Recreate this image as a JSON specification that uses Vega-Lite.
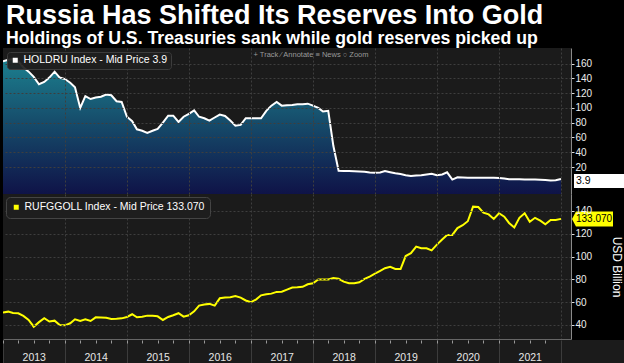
{
  "$schema": "https://vega.github.io/schema/vega-lite/v6.json",
  "background": "#000000",
  "padding": {"left": 0, "top": 2, "right": 0, "bottom": 0},
  "title": {
    "text": "Russia Has Shifted Its Reserves Into Gold",
    "subtitle": "Holdings of U.S. Treasuries sank while gold reserves picked up",
    "anchor": "start", "frame": "group", "dx": 3,
    "font": "Liberation Sans", "fontSize": 27, "fontWeight": "bold", "color": "#ffffff",
    "subtitleFont": "Liberation Sans", "subtitleFontSize": 17.7, "subtitleFontWeight": "bold", "subtitleColor": "#ffffff",
    "subtitlePadding": 0, "offset": -1
  },
  "config": {
    "font": "Liberation Sans",
    "view": {"fill": "#1b1b1b", "stroke": null}
  },
  "spacing": 0,
  "resolve": {"scale": {"x": "independent", "y": "independent", "color": "independent"}, "legend": {"color": "independent"}},
  "datasets": {
    "holdru": [
      {"date":"2013-01-01","v":163},{"date":"2013-02-01","v":165},{"date":"2013-03-01","v":166},{"date":"2013-04-01","v":163},{"date":"2013-05-01","v":155},{"date":"2013-06-01","v":149},{"date":"2013-07-01","v":142},{"date":"2013-08-01","v":132},{"date":"2013-09-01","v":135},{"date":"2013-10-01","v":141},{"date":"2013-11-01","v":149},{"date":"2013-12-01","v":141},
      {"date":"2014-01-01","v":139},{"date":"2014-02-01","v":134},{"date":"2014-03-01","v":128},{"date":"2014-04-01","v":100},{"date":"2014-05-01","v":116},{"date":"2014-06-01","v":112},{"date":"2014-07-01","v":114},{"date":"2014-08-01","v":115},{"date":"2014-09-01","v":118},{"date":"2014-10-01","v":117},{"date":"2014-11-01","v":109},{"date":"2014-12-01","v":108},
      {"date":"2015-01-01","v":88},{"date":"2015-02-01","v":82},{"date":"2015-03-01","v":71},{"date":"2015-04-01","v":69},{"date":"2015-05-01","v":66},{"date":"2015-06-01","v":69},{"date":"2015-07-01","v":71.5},{"date":"2015-08-01","v":80},{"date":"2015-09-01","v":89.5},{"date":"2015-10-01","v":89.5},{"date":"2015-11-01","v":81},{"date":"2015-12-01","v":88},
      {"date":"2016-01-01","v":92},{"date":"2016-02-01","v":96.7},{"date":"2016-03-01","v":88},{"date":"2016-04-01","v":86},{"date":"2016-05-01","v":82.7},{"date":"2016-06-01","v":87},{"date":"2016-07-01","v":91},{"date":"2016-08-01","v":89},{"date":"2016-09-01","v":83},{"date":"2016-10-01","v":76},{"date":"2016-11-01","v":77},{"date":"2016-12-01","v":86},
      {"date":"2017-01-01","v":86},{"date":"2017-02-01","v":86},{"date":"2017-03-01","v":86},{"date":"2017-04-01","v":96},{"date":"2017-05-01","v":103},{"date":"2017-06-01","v":108},{"date":"2017-07-01","v":103},{"date":"2017-08-01","v":103.5},{"date":"2017-09-01","v":104},{"date":"2017-10-01","v":105},{"date":"2017-11-01","v":105},{"date":"2017-12-01","v":105.7},
      {"date":"2018-01-01","v":103},{"date":"2018-02-01","v":100},{"date":"2018-03-01","v":95},{"date":"2018-04-01","v":96},{"date":"2018-05-01","v":48.7},{"date":"2018-06-01","v":14.9},{"date":"2018-07-01","v":14.6},{"date":"2018-08-01","v":14.6},{"date":"2018-09-01","v":14.4},{"date":"2018-10-01","v":14},{"date":"2018-11-01","v":13.7},{"date":"2018-12-01","v":12.5},
      {"date":"2019-01-01","v":12.3},{"date":"2019-02-01","v":12.5},{"date":"2019-03-01","v":14.6},{"date":"2019-04-01","v":13},{"date":"2019-05-01","v":11.5},{"date":"2019-06-01","v":10.5},{"date":"2019-07-01","v":9},{"date":"2019-08-01","v":7.8},{"date":"2019-09-01","v":8.5},{"date":"2019-10-01","v":9},{"date":"2019-11-01","v":10},{"date":"2019-12-01","v":11},
      {"date":"2020-01-01","v":9},{"date":"2020-02-01","v":10},{"date":"2020-03-01","v":12.8},{"date":"2020-04-01","v":3},{"date":"2020-05-01","v":6},{"date":"2020-06-01","v":5.8},{"date":"2020-07-01","v":5.6},{"date":"2020-08-01","v":5.6},{"date":"2020-09-01","v":5.6},{"date":"2020-10-01","v":5.5},{"date":"2020-11-01","v":5.6},{"date":"2020-12-01","v":5.6},
      {"date":"2021-01-01","v":5},{"date":"2021-02-01","v":4.5},{"date":"2021-03-01","v":3.5},{"date":"2021-04-01","v":3.5},{"date":"2021-05-01","v":3.3},{"date":"2021-06-01","v":3.2},{"date":"2021-07-01","v":3},{"date":"2021-08-01","v":3},{"date":"2021-09-01","v":2.8},{"date":"2021-10-01","v":2.5},{"date":"2021-11-01","v":1.8},{"date":"2021-12-01","v":2},
      {"date":"2022-01-01","v":3.9}
    ],
    "holdru_last": [{"date":"2022-01-01","v":3.9}],
    "gold": [
      {"date":"2013-01-01","v":51},{"date":"2013-02-01","v":51.7},{"date":"2013-03-01","v":50.5},{"date":"2013-04-01","v":50.3},{"date":"2013-05-01","v":48},{"date":"2013-06-01","v":44.5},{"date":"2013-07-01","v":38.5},{"date":"2013-08-01","v":42.5},{"date":"2013-09-01","v":45.9},{"date":"2013-10-01","v":43},{"date":"2013-11-01","v":43.8},{"date":"2013-12-01","v":40},
      {"date":"2014-01-01","v":39.7},{"date":"2014-02-01","v":41.5},{"date":"2014-03-01","v":45},{"date":"2014-04-01","v":43.5},{"date":"2014-05-01","v":45},{"date":"2014-06-01","v":43.5},{"date":"2014-07-01","v":46.7},{"date":"2014-08-01","v":46.6},{"date":"2014-09-01","v":46.4},{"date":"2014-10-01","v":45.3},{"date":"2014-11-01","v":45.4},{"date":"2014-12-01","v":45.8},
      {"date":"2015-01-01","v":47},{"date":"2015-02-01","v":49.4},{"date":"2015-03-01","v":46.7},{"date":"2015-04-01","v":47.2},{"date":"2015-05-01","v":48.2},{"date":"2015-06-01","v":48},{"date":"2015-07-01","v":47.6},{"date":"2015-08-01","v":44.4},{"date":"2015-09-01","v":47},{"date":"2015-10-01","v":48.5},{"date":"2015-11-01","v":50.3},{"date":"2015-12-01","v":47.3},
      {"date":"2016-01-01","v":48.5},{"date":"2016-02-01","v":52},{"date":"2016-03-01","v":57},{"date":"2016-04-01","v":58},{"date":"2016-05-01","v":58.5},{"date":"2016-06-01","v":57},{"date":"2016-07-01","v":63.4},{"date":"2016-08-01","v":64},{"date":"2016-09-01","v":64.3},{"date":"2016-10-01","v":65.4},{"date":"2016-11-01","v":64},{"date":"2016-12-01","v":61.5},
      {"date":"2017-01-01","v":60},{"date":"2017-02-01","v":62.5},{"date":"2017-03-01","v":66},{"date":"2017-04-01","v":67},{"date":"2017-05-01","v":67.5},{"date":"2017-06-01","v":69},{"date":"2017-07-01","v":69.2},{"date":"2017-08-01","v":71},{"date":"2017-09-01","v":72.8},{"date":"2017-10-01","v":73},{"date":"2017-11-01","v":73.5},{"date":"2017-12-01","v":75.7},
      {"date":"2018-01-01","v":76.6},{"date":"2018-02-01","v":80},{"date":"2018-03-01","v":80},{"date":"2018-04-01","v":80},{"date":"2018-05-01","v":81.2},{"date":"2018-06-01","v":80.5},{"date":"2018-07-01","v":78},{"date":"2018-08-01","v":76.6},{"date":"2018-09-01","v":76.6},{"date":"2018-10-01","v":77.5},{"date":"2018-11-01","v":80.4},{"date":"2018-12-01","v":82.5},
      {"date":"2019-01-01","v":85},{"date":"2019-02-01","v":87.5},{"date":"2019-03-01","v":89.8},{"date":"2019-04-01","v":91},{"date":"2019-05-01","v":89.1},{"date":"2019-06-01","v":89.1},{"date":"2019-07-01","v":100.5},{"date":"2019-08-01","v":103},{"date":"2019-09-01","v":108.7},{"date":"2019-10-01","v":107.3},{"date":"2019-11-01","v":107.3},{"date":"2019-12-01","v":105.5},
      {"date":"2020-01-01","v":110.5},{"date":"2020-02-01","v":115},{"date":"2020-03-01","v":118.9},{"date":"2020-04-01","v":119},{"date":"2020-05-01","v":125},{"date":"2020-06-01","v":127.5},{"date":"2020-07-01","v":131},{"date":"2020-08-01","v":143.8},{"date":"2020-09-01","v":143.5},{"date":"2020-10-01","v":138.5},{"date":"2020-11-01","v":137},{"date":"2020-12-01","v":133},
      {"date":"2021-01-01","v":138},{"date":"2021-02-01","v":135},{"date":"2021-03-01","v":129.5},{"date":"2021-04-01","v":125.5},{"date":"2021-05-01","v":134},{"date":"2021-06-01","v":138},{"date":"2021-07-01","v":130.5},{"date":"2021-08-01","v":134},{"date":"2021-09-01","v":131.5},{"date":"2021-10-01","v":128.3},{"date":"2021-11-01","v":132.1},{"date":"2021-12-01","v":132.1},
      {"date":"2022-01-01","v":133.07}
    ],
    "gold_last": [{"date":"2022-01-01","v":133.07}]
  },
  "vconcat": [
    {
      "width": 568, "height": 146,
      "title": {"text": "+ Track    ⁄ Annotate    ≡ News    ○ Zoom", "orient": "top", "anchor": "middle", "dx": 24, "offset": -10, "baseline": "top", "fontSize": 7.5, "fontWeight": "normal", "color": "#9a9a9a", "font": "Liberation Sans"},
      "encoding": {
        "x": {"field": "date", "type": "temporal",
          "scale": {"type": "utc", "domain": [{"year":2013,"month":1,"date":1,"utc":true},{"year":2022,"month":3,"date":1,"utc":true}]},
          "axis": {"orient": "bottom", "title": null, "labels": false, "ticks": false, "domain": true, "domainColor": "#4a4a4a",
            "grid": true, "gridColor": "#3e3e3e", "gridDash": [2,2], "zindex": 1,
            "values": [{"year":2014,"month":1,"date":1,"utc":true},{"year":2015,"month":1,"date":1,"utc":true},{"year":2016,"month":1,"date":1,"utc":true},{"year":2017,"month":1,"date":1,"utc":true},{"year":2018,"month":1,"date":1,"utc":true},{"year":2019,"month":1,"date":1,"utc":true},{"year":2020,"month":1,"date":1,"utc":true},{"year":2021,"month":1,"date":1,"utc":true},{"year":2022,"month":1,"date":1,"utc":true}]}},
        "y": {"field": "v", "type": "quantitative",
          "scale": {"domain": [-16.5, 181], "nice": false, "zero": false},
          "axis": {"orient": "right", "title": null, "values": [20,40,60,80,100,120,140,160],
            "grid": true, "gridColor": "#3e3e3e", "gridDash": [2,2], "domainColor": "#8a8a8a",
            "tickColor": "#dddddd", "tickSize": 3, "labelPadding": 1, "labelColor": "#eeeeee", "labelFontSize": 10, "zindex": 1}}
      },
      "layer": [
        {"data": {"name": "holdru"},
         "mark": {"type": "area", "clip": true,
           "color": {"gradient": "linear", "x1": 0, "y1": 0, "x2": 0, "y2": 1,
             "stops": [{"offset": 0, "color": "#1c808f"}, {"offset": 0.45, "color": "#164e6c"}, {"offset": 1, "color": "#0f1348"}]}},
         "encoding": {"y2": {"datum": -16.5}}},
        {"data": {"name": "holdru"},
         "mark": {"type": "line", "clip": true, "color": "#ffffff", "strokeWidth": 2}},
        {"data": {"name": "holdru_last"},
         "mark": {"type": "point", "shape": "M13,-5L66,-5L66,9L13,9Z", "size": 4, "filled": true, "opacity": 1, "strokeWidth": 0},
         "encoding": {"color": {"datum": "HOLDRU Index - Mid Price 3.9", "scale": {"range": ["#ffffff"]},
           "legend": {"title": null, "orient": "top-left", "offset": 4, "padding": 3, "fillColor": "rgba(30,30,30,0.92)", "strokeColor": "#3c3c3c", "cornerRadius": 3,
             "symbolType": "square", "symbolSize": 25, "symbolStrokeWidth": 0, "labelColor": "#ffffff", "labelFontSize": 10.5, "labelOffset": 3, "labelLimit": 300, "zindex": 2}}}},
        {"data": {"name": "holdru_last"},
         "mark": {"type": "text", "align": "left", "baseline": "middle", "dx": 15, "dy": 2, "fontSize": 10.5, "color": "#000000"},
         "encoding": {"text": {"field": "v", "type": "quantitative", "format": ".1f"}}}
      ]
    },
    {
      "width": 568, "height": 145,
      "encoding": {
        "x": {"field": "date", "type": "temporal",
          "scale": {"type": "utc", "domain": [{"year":2013,"month":1,"date":1,"utc":true},{"year":2022,"month":3,"date":1,"utc":true}]},
          "axis": {"orient": "bottom", "title": null, "labels": false, "ticks": false, "domain": true, "domainColor": "#666666",
            "grid": true, "gridColor": "#3e3e3e", "gridDash": [2,2], "zindex": 1,
            "values": [{"year":2014,"month":1,"date":1,"utc":true},{"year":2015,"month":1,"date":1,"utc":true},{"year":2016,"month":1,"date":1,"utc":true},{"year":2017,"month":1,"date":1,"utc":true},{"year":2018,"month":1,"date":1,"utc":true},{"year":2019,"month":1,"date":1,"utc":true},{"year":2020,"month":1,"date":1,"utc":true},{"year":2021,"month":1,"date":1,"utc":true},{"year":2022,"month":1,"date":1,"utc":true}]}},
        "y": {"field": "v", "type": "quantitative",
          "scale": {"domain": [27.7, 154.9], "nice": false, "zero": false},
          "axis": {"orient": "right", "title": "USD Billion", "titleColor": "#ffffff", "titleFontSize": 12, "titleFontWeight": "normal", "titlePadding": 18,
            "values": [40,60,80,100,120,140],
            "grid": true, "gridColor": "#3e3e3e", "gridDash": [2,2], "domainColor": "#8a8a8a",
            "tickColor": "#dddddd", "tickSize": 3, "labelPadding": 1, "labelColor": "#eeeeee", "labelFontSize": 10, "zindex": 1}}
      },
      "layer": [
        {"data": {"name": "gold"},
         "mark": {"type": "line", "clip": true, "color": "#ffff00", "strokeWidth": 2}},
        {"data": {"name": "gold_last"},
         "mark": {"type": "point", "shape": "M11,0L15,-7.5L52,-7.5L52,7.5L15,7.5Z", "size": 4, "filled": true, "opacity": 1, "strokeWidth": 0},
         "encoding": {"color": {"datum": "RUFGGOLL Index - Mid Price 133.070", "scale": {"range": ["#ffff00"]},
           "legend": {"title": null, "orient": "top-left", "offset": 3, "padding": 5, "fillColor": "#1e1e1e", "strokeColor": "#444444", "cornerRadius": 4,
             "symbolType": "square", "symbolSize": 25, "symbolStrokeWidth": 0, "labelColor": "#ffffff", "labelFontSize": 10.5, "labelOffset": 3, "labelLimit": 300, "zindex": 2}}}},
        {"data": {"name": "gold_last"},
         "mark": {"type": "text", "align": "left", "baseline": "middle", "dx": 15, "fontSize": 10, "color": "#000000"},
         "encoding": {"text": {"field": "v", "type": "quantitative", "format": ".3f"}}}
      ]
    },
    {
      "width": 624, "height": 24,
      "data": {"name": "gold"},
      "mark": {"type": "point", "opacity": 0},
      "encoding": {
        "x": {"field": "date", "type": "temporal",
          "scale": {"type": "utc", "domain": [{"year":2013,"month":1,"date":1,"utc":true},{"year":2023,"month":1,"date":25,"utc":true}]},
          "axis": {"orient": "bottom", "offset": -24, "title": null, "domain": false,
            "tickCount": {"interval": "month", "step": 3},
            "ticks": true, "tickSize": 3, "tickColor": "#9a9a9a",
            "tickOpacity": {"condition": {"test": "utcyear(datum.value) < 2022", "value": 1}, "value": 0},
            "grid": true, "gridColor": "#3c3c3c",
            "gridOpacity": {"condition": {"test": "utcmonth(datum.value) == 0 && utcyear(datum.value) <= 2022", "value": 1}, "value": 0},
            "labelExpr": "utcmonth(datum.value) == 6 && utcyear(datum.value) < 2022 ? utcFormat(datum.value, '%Y') : ''",
            "labelOverlap": false, "labelFlush": false, "labelBound": false,
            "labelBaseline": "alphabetic", "labelPadding": 17, "labelColor": "#e6e6e6", "labelFontSize": 10.5}}
      }
    }
  ]
}
